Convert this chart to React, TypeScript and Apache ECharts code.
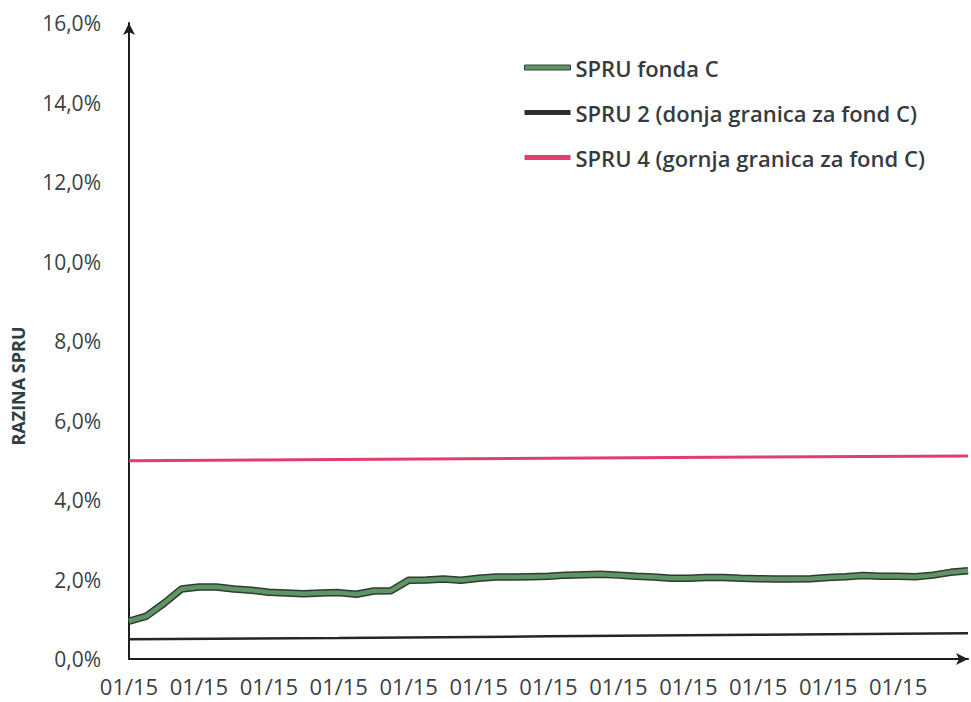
import React, { useEffect, useRef } from "react";
import * as echarts from "echarts";

// 49 observation periods (category positions along the x axis)
const periods: string[] = [
  "p01","p02","p03","p04","p05","p06","p07","p08","p09","p10",
  "p11","p12","p13","p14","p15","p16","p17","p18","p19","p20",
  "p21","p22","p23","p24","p25","p26","p27","p28","p29","p30",
  "p31","p32","p33","p34","p35","p36","p37","p38","p39","p40",
  "p41","p42","p43","p44","p45","p46","p47","p48","p49",
];

// tick label shown every 4th period (12 labels)
const xTickLabel = "01/15";
const xLabelCount = 12;
const xLabelStep = 4;

// SPRU fonda C (%)
const spruFondaC: number[] = [
  0.95, 1.08, 1.40, 1.76, 1.81, 1.81, 1.76, 1.73, 1.68, 1.66,
  1.64, 1.66, 1.67, 1.63, 1.71, 1.72, 1.98, 1.99, 2.01, 1.98,
  2.03, 2.06, 2.06, 2.07, 2.08, 2.11, 2.12, 2.13, 2.11, 2.08,
  2.06, 2.03, 2.03, 2.05, 2.05, 2.03, 2.02, 2.01, 2.01, 2.02,
  2.05, 2.07, 2.10, 2.08, 2.08, 2.07, 2.11, 2.18, 2.22,
];

// SPRU 2 (lower bound) readings at selected periods [periodIndex, %]
const spru2: [number, number][] = [
  [0, 0.50], [12, 0.53], [24, 0.57], [36, 0.61], [48, 0.65],
];

// SPRU 4 (upper bound) readings at selected periods [periodIndex, %]
const spru4: [number, number][] = [
  [0, 4.99], [12, 5.02], [24, 5.05], [36, 5.08], [48, 5.11],
];

const yTicks = { min: 0, max: 16, interval: 2 };

const NAME_C = "SPRU fonda C";
const NAME_2 = "SPRU 2 (donja granica za fond C)";
const NAME_4 = "SPRU 4 (gornja granica za fond C)";

export default function App() {
  const ref = useRef<HTMLDivElement>(null);

  useEffect(() => {
    if (!ref.current) return;
    const chart = echarts.init(ref.current, undefined, { renderer: "svg" });
    const font = "'Open Sans', sans-serif";
    chart.setOption({
      animation: false,
      backgroundColor: "#ffffff",
      grid: {
        left: 129,
        right: 3,
        top: 23,
        bottom: 43,
        containLabel: false,
        outerBoundsMode: "none",
      },
      legend: {
        orient: "vertical",
        left: 524,
        top: 55,
        padding: 0,
        itemGap: 20,
        itemWidth: 46,
        itemHeight: 5,
        textStyle: {
          fontFamily: font,
          fontSize: 22,
          fontWeight: 600,
          lineHeight: 25,
          color: "#363b40",
        },
        data: [
          { name: NAME_C, icon: "rect", itemStyle: { color: "#5f9463", borderColor: "#34463a", borderWidth: 1 } },
          { name: NAME_2, icon: "rect", itemStyle: { color: "#2a2f2c", borderWidth: 0 } },
          { name: NAME_4, icon: "rect", itemStyle: { color: "#e03f6e", borderWidth: 0 } },
        ],
      },
      xAxis: {
        type: "category",
        data: periods,
        boundaryGap: false,
        axisLine: {
          show: true,
          symbol: ["none", "arrow"],
          symbolSize: [9, 12],
          lineStyle: { color: "#1e1e1e", width: 2 },
        },
        axisTick: { show: false },
        axisLabel: {
          interval: (i: number) => i % xLabelStep === 0 && i / xLabelStep < xLabelCount,
          formatter: () => xTickLabel,
          fontFamily: font,
          fontSize: 22,
          color: "#3a3f44",
          margin: 16,
        },
        splitLine: { show: false },
      },
      yAxis: {
        type: "value",
        min: yTicks.min,
        max: yTicks.max,
        interval: yTicks.interval,
        axisLine: {
          show: true,
          symbol: ["none", "arrow"],
          symbolSize: [9, 12],
          lineStyle: { color: "#1e1e1e", width: 2 },
        },
        axisTick: { show: false },
        axisLabel: {
          formatter: (v: number) => v.toFixed(1).replace(".", ",") + "%",
          fontFamily: font,
          fontSize: 21,
          color: "#3a3f44",
          margin: 28,
        },
        splitLine: { show: false },
      },
      graphic: [
        {
          type: "text",
          x: 18,
          y: 386,
          rotation: Math.PI / 2,
          style: {
            text: "RAZINA SPRU",
            font: "bold 18px 'Open Sans', sans-serif",
            fill: "#2f3d45",
            textAlign: "center",
            textVerticalAlign: "middle",
          },
        },
      ],
      series: [
        {
          name: "outline",
          type: "line",
          data: spruFondaC,
          showSymbol: false,
          symbol: "none",
          lineStyle: { color: "#2e3b31", width: 7.5 },
          z: 2,
          silent: true,
        },
        {
          name: NAME_C,
          type: "line",
          data: spruFondaC,
          showSymbol: false,
          symbol: "none",
          lineStyle: { color: "#5f9463", width: 4.5 },
          itemStyle: { color: "#5f9463" },
          z: 3,
        },
        {
          name: NAME_2,
          type: "line",
          data: spru2,
          showSymbol: false,
          symbol: "none",
          lineStyle: { color: "#232824", width: 2.5 },
          itemStyle: { color: "#232824" },
          z: 3,
        },
        {
          name: NAME_4,
          type: "line",
          data: spru4,
          showSymbol: false,
          symbol: "none",
          lineStyle: { color: "#e03f6e", width: 3 },
          itemStyle: { color: "#e03f6e" },
          z: 3,
        },
      ],
    });
    return () => chart.dispose();
  }, []);

  return (
    <div
      ref={ref}
      style={{ position: "absolute", left: 0, top: 0, width: 971, height: 702 }}
    />
  );
}
